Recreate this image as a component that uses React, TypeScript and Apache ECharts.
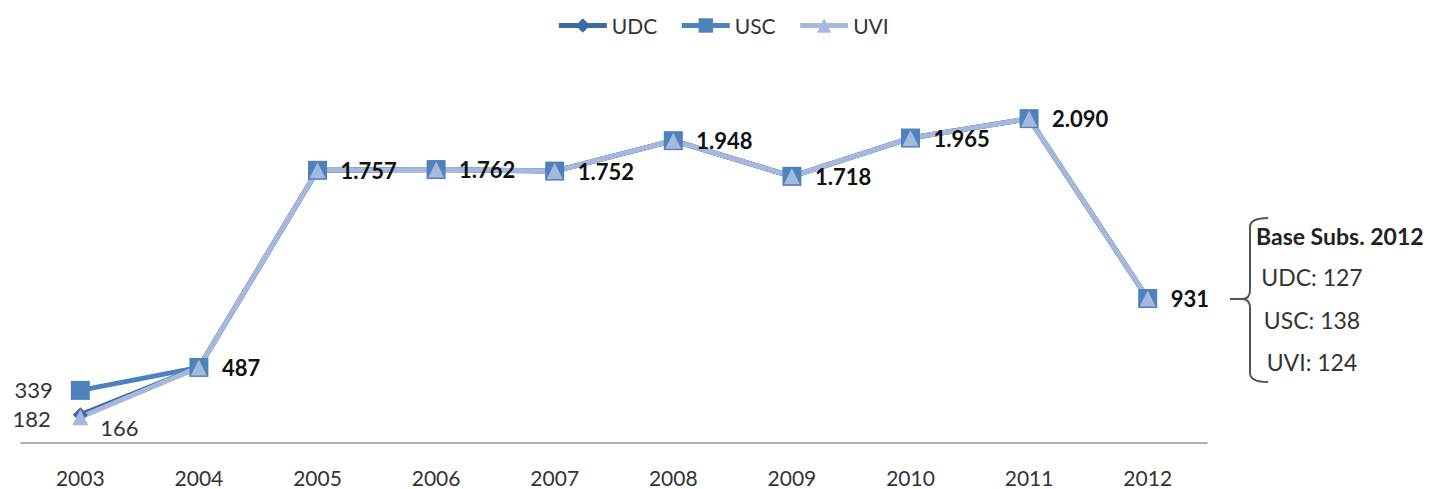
import React, { useEffect, useRef } from "react";
import * as echarts from "echarts";

const years = ["2003", "2004", "2005", "2006", "2007", "2008", "2009", "2010", "2011", "2012"];
const udcValues = [182, 487, 1757, 1762, 1752, 1948, 1718, 1965, 2090, 931];
const uscValues = [339, 487, 1757, 1762, 1752, 1948, 1718, 1965, 2090, 931];
const uviValues = [166, 487, 1757, 1762, 1752, 1948, 1718, 1965, 2090, 931];
const baseTitle = "Base Subs. 2012";
const baseLines = ["UDC: 127", "USC: 138", "UVI: 124"];

const FONT = "Lato, 'Open Sans', sans-serif";

const fmt = (v: number) => {
  const s = String(Math.round(v));
  return s.length > 3 ? s.slice(0, s.length - 3) + "." + s.slice(s.length - 3) : s;
};

const bracePath =
  "M1268 218 Q1250 218 1250 227 L1250 290 Q1250 299 1242 299 L1230 299 M1242 299 Q1250 299 1250 308 L1250 373 Q1250 382 1268 382";

let registered = false;

export default function App() {
  const ref = useRef<HTMLDivElement>(null);
  useEffect(() => {
    if (!ref.current) return;
    if (!registered) {
      echarts.graphic.registerShape("brace", echarts.graphic.extendPath(bracePath, {}) as any);
      registered = true;
    }
    const chart = echarts.init(ref.current, null, { renderer: "svg" });

    const boldLabel = {
      show: true,
      position: "right",
      distance: 15,
      color: "#111",
      fontSize: 22,
      fontWeight: "bold",
      fontFamily: FONT,
      formatter: (p: any) => fmt(p.value),
    };

    const plainLabel = (position: string, distance: number, offset: number[]) => ({
      show: true,
      position,
      distance,
      offset,
      color: "#333",
      fontWeight: "normal",
      fontSize: 22,
      fontFamily: FONT,
      formatter: (p: any) => fmt(p.value),
    });

    const firstOnly = (vals: number[], label: any) =>
      vals.map((v, i) => (i === 0 ? { value: v, label } : { value: v, label: { show: false } }));

    chart.setOption({
      animation: false,
      backgroundColor: "#fff",
      textStyle: { fontFamily: FONT },
      legend: {
        top: 10,
        left: "center",
        itemWidth: 48,
        itemHeight: 18,
        itemGap: 22,
        lineStyle: { width: 5 },
        textStyle: { fontSize: 21, color: "#333", fontFamily: FONT },
        data: ["UDC", "USC", "UVI"],
      },
      grid: { left: 21, right: 238, top: 55, bottom: 46 },
      xAxis: {
        type: "category",
        data: years,
        boundaryGap: true,
        axisLine: { lineStyle: { color: "#999", width: 1.5 } },
        axisTick: { show: false },
        axisLabel: { fontSize: 21, lineHeight: 21, color: "#333", margin: 24, fontFamily: FONT },
      },
      yAxis: { type: "value", min: 0, max: 2500, show: false, splitLine: { show: false } },
      series: [
        {
          name: "UDC",
          type: "line",
          symbol: "diamond",
          symbolSize: 15,
          itemStyle: { color: "#3D6AA2" },
          lineStyle: { width: 5, color: "#3D6AA2" },
          data: firstOnly(udcValues, plainLabel("left", 22, [0, 4])),
        },
        {
          name: "USC",
          type: "line",
          symbol: "rect",
          symbolSize: 19,
          itemStyle: { color: "#4F81BD" },
          lineStyle: { width: 5, color: "#4F81BD" },
          data: firstOnly(uscValues, plainLabel("left", 18, [0, -1])),
        },
        {
          name: "UVI",
          type: "line",
          symbol: "triangle",
          symbolSize: 16,
          itemStyle: { color: "#A6B8DC" },
          lineStyle: { width: 5, color: "#A6B8DC" },
          label: boldLabel,
          data: uviValues.map((v, i) =>
            i === 0 ? { value: v, label: plainLabel("right", 12, [0, 10]) } : { value: v }
          ),
        },
      ],
      graphic: [
        {
          type: "brace",
          x: 0,
          y: 0,
          style: { stroke: "#555", fill: null, lineWidth: 2 },
        },
        {
          type: "text",
          x: 1256,
          y: 236,
          style: {
            text: baseTitle,
            fontSize: 23,
            fontWeight: "bold",
            fill: "#222",
            fontFamily: FONT,
            verticalAlign: "middle",
          },
        },
        ...baseLines.map((t, i) => ({
          type: "text",
          x: 1312,
          y: 277 + i * 42.5,
          style: {
            text: t,
            fontSize: 23,
            fill: "#333",
            fontFamily: FONT,
            align: "center",
            verticalAlign: "middle",
          },
        })),
      ],
    });
    return () => chart.dispose();
  }, []);
  return <div ref={ref} style={{ width: 1445, height: 489, position: "absolute", left: 0, top: 0 }} />;
}
